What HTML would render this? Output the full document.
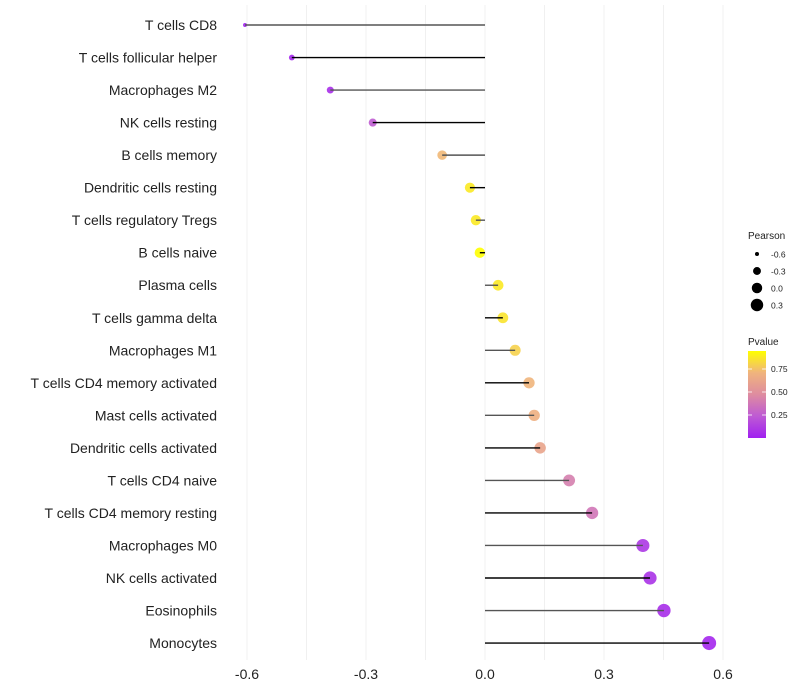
<!DOCTYPE html>
<html><head><meta charset="utf-8"><style>
body{margin:0;background:#fff;font-family:"Liberation Sans",sans-serif}
svg{display:block}
</style></head><body>
<svg id="c" width="800" height="700"></svg>
<script>
const categories=["T cells CD8","T cells follicular helper","Macrophages M2","NK cells resting","B cells memory","Dendritic cells resting","T cells regulatory  Tregs ","B cells naive","Plasma cells","T cells gamma delta","Macrophages M1","T cells CD4 memory activated","Mast cells activated","Dendritic cells activated","T cells CD4 naive","T cells CD4 memory resting","Macrophages M0","NK cells activated","Eosinophils","Monocytes"];
const pearson=[-0.605,-0.487,-0.39,-0.283,-0.108,-0.038,-0.023,-0.013,0.033,0.045,0.076,0.111,0.124,0.139,0.212,0.27,0.398,0.416,0.451,0.565];
const pvalues=[0.01,0.03,0.06,0.25,0.74,0.9,0.9,0.97,0.9,0.88,0.82,0.73,0.7,0.63,0.42,0.38,0.1,0.08,0.06,0.03];
const xTicks=[-0.6,-0.3,0.0,0.3,0.6];
const xTickLabels=["-0.6","-0.3","0.0","0.3","0.6"];
const sizeLegend=[-0.6,-0.3,0.0,0.3];
const NS="http://www.w3.org/2000/svg";
const svg=document.getElementById('c');
function x(v){return 485+v*396.7;}
function y(i){return 25+i*32.53;}
function r(v){return Math.sqrt(Math.max(2,27.3+38.8*v));}
const stops=[[160,32,240],[190,90,212],[222,140,160],[240,180,125],[255,255,0]];
function col(p){let t=Math.min(1,Math.max(0,p/0.97))*4;let i=Math.min(3,Math.floor(t));let f=t-i;let a=stops[i],b=stops[i+1];return `rgb(${a.map((c,k)=>Math.round(c+(b[k]-c)*f)).join(',')})`;}
function mk(tag,attrs,parent){const e=document.createElementNS(NS,tag);for(const k in attrs)e.setAttribute(k,attrs[k]);(parent||svg).appendChild(e);return e;}
[-0.6,-0.45,-0.3,-0.15,0,0.15,0.3,0.45,0.6].forEach(v=>{
const g=mk('line',{x1:x(v),x2:x(v),y1:5,y2:660,stroke:'#f0f0f0','stroke-width':1});


});
xTicks.forEach((v,i)=>{
const t=mk('text',{x:x(v),y:679,'text-anchor':'middle','font-size':14,fill:'#222'});
t.textContent=xTickLabels[i];


});
categories.forEach((c,i)=>{
const t=mk('text',{x:217,y:y(i)+5,'text-anchor':'end','font-size':14,fill:'#222'});
t.textContent=c;


const d=mk('circle',{cx:x(pearson[i]),cy:y(i),r:r(pearson[i]),fill:col(pvalues[i]),'fill-opacity':0.9});


const l=mk('line',{x1:x(0),x2:x(pearson[i]),y1:y(i),y2:y(i),stroke:i%2?'#000':'#555','stroke-width':1.4});


});
const lt=mk('text',{x:748,y:239,'font-size':10,fill:'#222'});lt.textContent='Pearson';


sizeLegend.forEach((v,i)=>{
const cy=254+i*17;
const c=mk('circle',{cx:757,cy:cy,r:r(v),fill:'#000'});


const t=mk('text',{x:771,y:cy+3.5,'font-size':8.5,fill:'#222'});t.textContent=v.toFixed(1);


});
const pt=mk('text',{x:748,y:345,'font-size':10,fill:'#222'});pt.textContent='Pvalue';


const defs=mk('defs',{});const gr=mk('linearGradient',{id:'g',x1:0,y1:1,x2:0,y2:0},defs);
stops.forEach((s,i)=>mk('stop',{offset:i/4,'stop-color':`rgb(${s.join(',')})`},gr));
const bar=mk('rect',{x:748,y:351,width:18,height:87,fill:'url(#g)'});


[[0.25,415],[0.5,392],[0.75,369]].forEach(([v,yy])=>{
mk('line',{x1:748,x2:752,y1:yy,y2:yy,stroke:'#fff','stroke-width':0.8});
mk('line',{x1:762,x2:766,y1:yy,y2:yy,stroke:'#fff','stroke-width':0.8});
const t=mk('text',{x:771,y:yy+3,'font-size':8.5,fill:'#222'});t.textContent=v.toFixed(2);


});
</script>
</body></html>
